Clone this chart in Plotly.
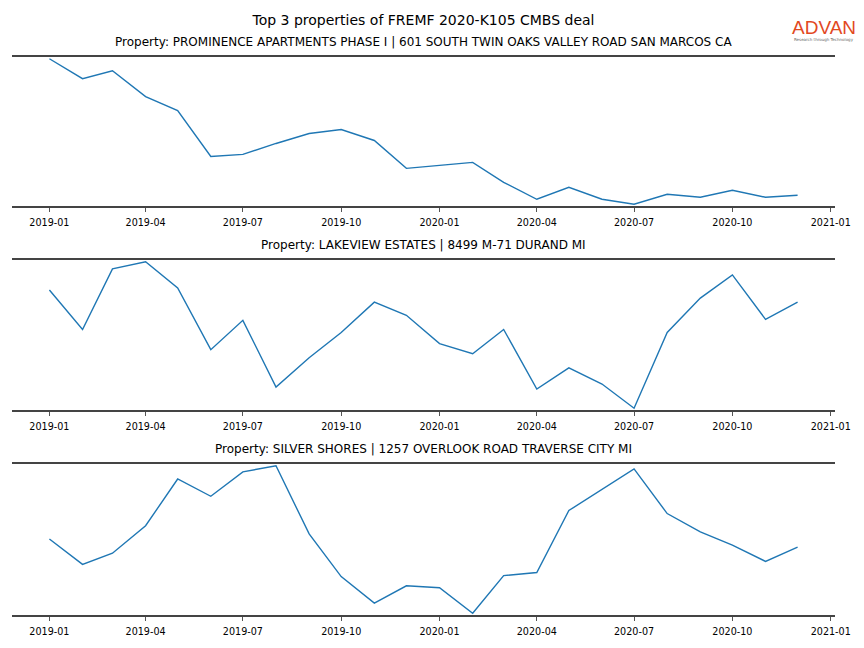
import plotly.graph_objects as go
import pandas as pd

months = pd.date_range("2019-01-01", "2020-12-01", freq="MS").strftime("%Y-%m-%d").tolist()

titles = [
    "Property: PROMINENCE APARTMENTS PHASE I | 601 SOUTH TWIN OAKS VALLEY ROAD SAN MARCOS CA",
    "Property: LAKEVIEW ESTATES | 8499 M-71 DURAND MI",
    "Property: SILVER SHORES | 1257 OVERLOOK ROAD TRAVERSE CITY MI",
]
series1 = [148, 128, 136, 110, 96, 50, 52, 63, 73, 77, 66, 38, 41, 44, 24, 7, 19, 7, 2, 12, 9, 16, 9, 11]
series2 = [119, 80, 140, 147, 121, 60, 89, 23, 52, 77, 107, 94, 66, 56, 80, 21, 42, 26, 2, 77, 111, 134, 90, 107]
series3 = [76, 51, 62, 89, 135, 118, 142, 148, 81, 39, 13, 30, 28, 3, 40, 43, 104, 125, 145, 101, 83, 70, 54, 68]
all_series = [series1, series2, series3]

main_title = "Top 3 properties of FREMF 2020-K105 CMBS deal"

W, H = 864, 648
mt, mb, ml, mr = 57, 33, 12, 29
ph = H - mt - mb
# pixel top/bottom of each panel
panels = [(57, 206), (260, 410), (464, 615)]

def py(y):
    return (H - mb - y) / ph

fig = go.Figure()
FONT = "DejaVu Sans"
for i, (vals, (top, bot)) in enumerate(zip(all_series, panels)):
    n = "" if i == 0 else str(i + 1)
    fig.add_trace(go.Scatter(x=months, y=vals, mode="lines",
                             line=dict(color="#1f77b4", width=1.4),
                             xaxis="x" + n, yaxis="y" + n, showlegend=False))
    lo, hi = min(vals), max(vals)
    pad = (hi - lo) * 0.012
    fig.layout["xaxis" + n] = dict(
        domain=[0, 1], anchor="y" + n, type="date",
        range=["2018-11-27", "2021-01-05"],
        tick0="2019-01-01", dtick="M3", tickformat="%Y-%m",
        ticks="outside", ticklen=4, tickwidth=1, tickcolor="#555",
        ticklabelstandoff=3,
        showline=True, mirror=True, linecolor="#444", linewidth=1.6,
        showgrid=False, zeroline=False,
        tickfont=dict(family=FONT, size=9.6, color="#000"),
    )
    fig.layout["yaxis" + n] = dict(
        domain=[py(bot), py(top)], anchor="x" + n,
        range=[lo - pad, hi + pad],
        showticklabels=False, ticks="", showgrid=False, zeroline=False, showline=False,
    )
    fig.add_annotation(text=titles[i], xref="paper", yref="paper",
                       x=0.5, y=py(top - 15), xanchor="center", yanchor="middle",
                       showarrow=False, font=dict(family=FONT, size=12, color="#000"))

logo_x = (824 - ml) / (W - ml - mr)
fig.add_annotation(text="ADVAN", xref="paper", yref="paper",
                   x=logo_x, y=py(27), xanchor="center", yanchor="middle",
                   showarrow=False, font=dict(family="Liberation Sans", size=19, color="#e2491f"))
fig.add_annotation(text="Research through Technology", xref="paper", yref="paper",
                   x=logo_x, y=py(39), xanchor="center", yanchor="middle",
                   showarrow=False, font=dict(family=FONT, size=4, color="#666"))

fig.update_layout(
    width=W, height=H,
    margin=dict(l=ml, r=mr, t=mt, b=mb),
    paper_bgcolor="white", plot_bgcolor="white",
    title=dict(text=main_title, x=0.5, xref="paper", xanchor="center",
               y=1 - 20 / H, yref="container", yanchor="middle",
               font=dict(family=FONT, size=14, color="#000")),
)
fig.write_html("out.html", config={"displayModeBar": False},
               post_script="document.body.style.margin='0';")
